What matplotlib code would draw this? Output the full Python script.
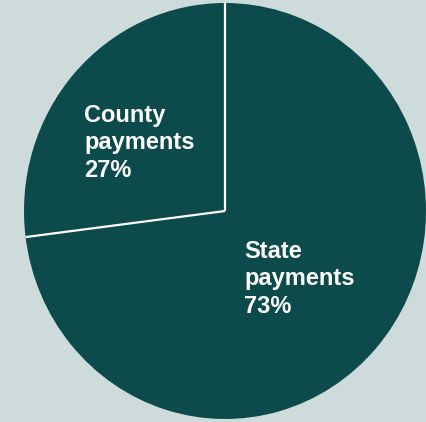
import numpy as np
import matplotlib
matplotlib.use("Agg")
import matplotlib.pyplot as plt

labels = ["County\npayments", "State\npayments"]
shares = [27, 73]

BG = "#cddbda"
PIE = "#0c4a4b"

W, H = 426, 422
fig = plt.figure(figsize=(W / 100, H / 100), dpi=100, facecolor=BG)
# pie centre ~ (225, 211) px, radii ~ 201 x 208 px
cx, cy, rx, ry = 225, 211, 201, 208
ax = fig.add_axes([(cx - rx) / W, (H - cy - ry) / H, 2 * rx / W, 2 * ry / H])
ax.set_facecolor(BG)

wedges, _ = ax.pie(shares, colors=[PIE, PIE], startangle=90, counterclock=True,
                   radius=1.0, wedgeprops=dict(linewidth=0))
ax.set_aspect("auto")
ax.set_xlim(-1, 1)
ax.set_ylim(-1, 1)
ax.axis("off")

# white separators between slices
cum = np.cumsum([0] + shares[:-1])
for c in cum:
    ang = np.deg2rad(90 + 360 * c / sum(shares))
    ax.plot([0, np.cos(ang)], [0, np.sin(ang)], color="white", lw=1.6,
            solid_capstyle="butt", zorder=3)

font = dict(family="Liberation Sans", weight="bold", size=17, color="white",
            linespacing=1.25, ha="left", va="top")
fig.text(84 / W, 1 - 104 / H, f"{labels[0]}\n{shares[0]}%", **font)
fig.text(244 / W, 1 - 240 / H, f"{labels[1]}\n{shares[1]}%", **font)

fig.savefig("out.png", dpi=100, facecolor=BG)
